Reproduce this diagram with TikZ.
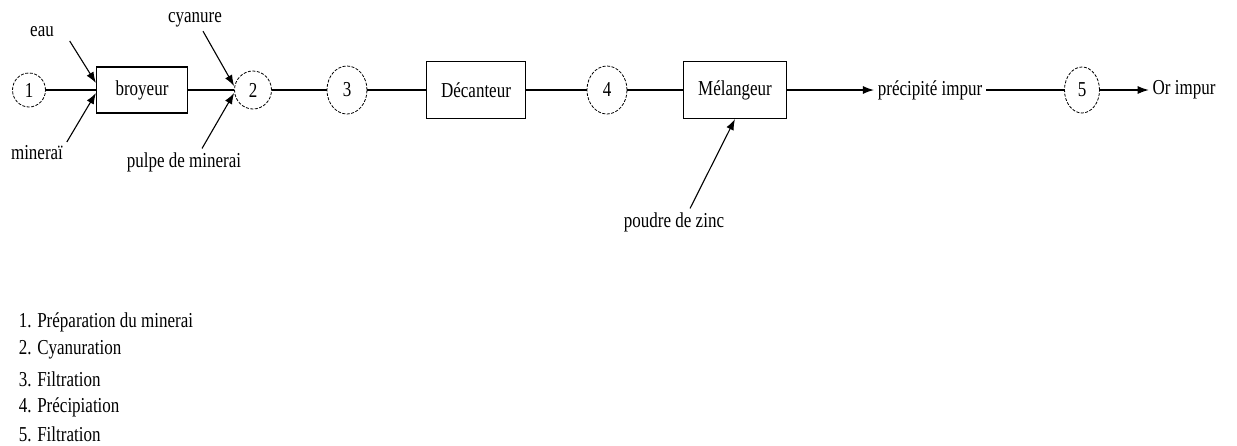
\documentclass[tikz,border=0pt]{standalone}
\usepackage{fontspec}
\setmainfont{Liberation Serif}
\usepackage{graphicx}
\usetikzlibrary{shapes.geometric,arrows,arrows.meta}

\newcommand{\etire}[1]{\scalebox{1}[1.25]{#1}}

\tikzset{
  etape/.style={draw,ellipse,line width=0.8pt,dash pattern=on 3pt off 1.5pt,inner sep=0pt},
  bloc/.style={draw,rectangle,inner sep=0pt},
}

\begin{document}
\begin{tikzpicture}[x=1pt,y=-1pt,>={Latex[length=11pt,width=8pt]},line width=1.1pt,font=\fontsize{17}{20}\selectfont]
		\useasboundingbox (0,0) rectangle (1237,445);

		\node[etape,minimum width=33pt,minimum height=34pt] (n1) at (29,90) {\etire{1}};
		\node[bloc,minimum width=91pt,minimum height=46pt] (broyeur) [node distance=113pt,right of=n1] {\etire{broyeur}};
		\node[etape,minimum width=37pt,minimum height=38pt] (n2) [node distance=111pt,right of=broyeur] {\etire{2}};
		\node[etape,minimum width=40pt,minimum height=48pt] (n3) [node distance=94pt,right of=n2] {\etire{3}};
		\node[bloc,minimum width=99pt,minimum height=57pt] (decanteur) [node distance=129pt,right of=n3] {\etire{Décanteur}};
		\node[etape,minimum width=40pt,minimum height=48pt] (n4) [node distance=131pt,right of=decanteur] {\etire{4}};
		\node[bloc,minimum width=103pt,minimum height=57pt] (melangeur) [node distance=128pt,right of=n4] {\etire{Mélangeur}};
		\node (precipite) [node distance=195pt,right of=melangeur] {\etire{précipité impur}};
		\node[etape,minimum width=35pt,minimum height=46pt] (n5) [node distance=152pt,right of=precipite] {\etire{5}};
		\node (or) [node distance=102pt,right of=n5] {\etire{Or impur}};

		% entrees
		\node (eau) at (42,32) {\etire{eau}};
		\node (minerai) at (37,153) {\etire{mineraï}};
		\node (cyanure) at (195,20) {\etire{cyanure}};
		\node (pulpe) at (184,162) {\etire{pulpe de minerai}};
		\node (zinc) at (674,222) {\etire{poudre de zinc}};

		\draw (n1) -- (broyeur);
		\draw (broyeur) -- (n2);
		\draw (n2) -- (n3);
		\draw (n3) -- (decanteur);
		\draw (decanteur) -- (n4);
		\draw (n4) -- (melangeur);
		\draw[->] (melangeur) -- (precipite);
		\draw (precipite) -- (n5);
		\draw[->] (n5) -- (or);

		\draw[->] ([xshift=12pt]eau.south east) -- ([yshift=7pt]broyeur.west);
		\draw[->] (minerai.north east) -- ([yshift=-3pt]broyeur.west);
		\draw[->] ([xshift=8pt]cyanure.south) -- ([yshift=4pt]n2.west);
		\draw[->] ([xshift=18pt]pulpe.north) -- ([yshift=-3pt]n2.west);
		\draw[->] ([xshift=16pt]zinc.north) -- (melangeur.south);

		% legende
		\node[anchor=west] (l1) at (15,322) {\etire{1. Préparation du minerai}};
		\node[anchor=west] (l2) at (15,350) {\etire{2. Cyanuration}};
		\node[anchor=west] (l3) at (15,379) {\etire{3. Filtration}};
		\node[anchor=west] (l4) at (15,407) {\etire{4. Précipiation}};
		\node[anchor=west] (l5) at (15,434) {\etire{5. Filtration}};
\end{tikzpicture}
\end{document}
